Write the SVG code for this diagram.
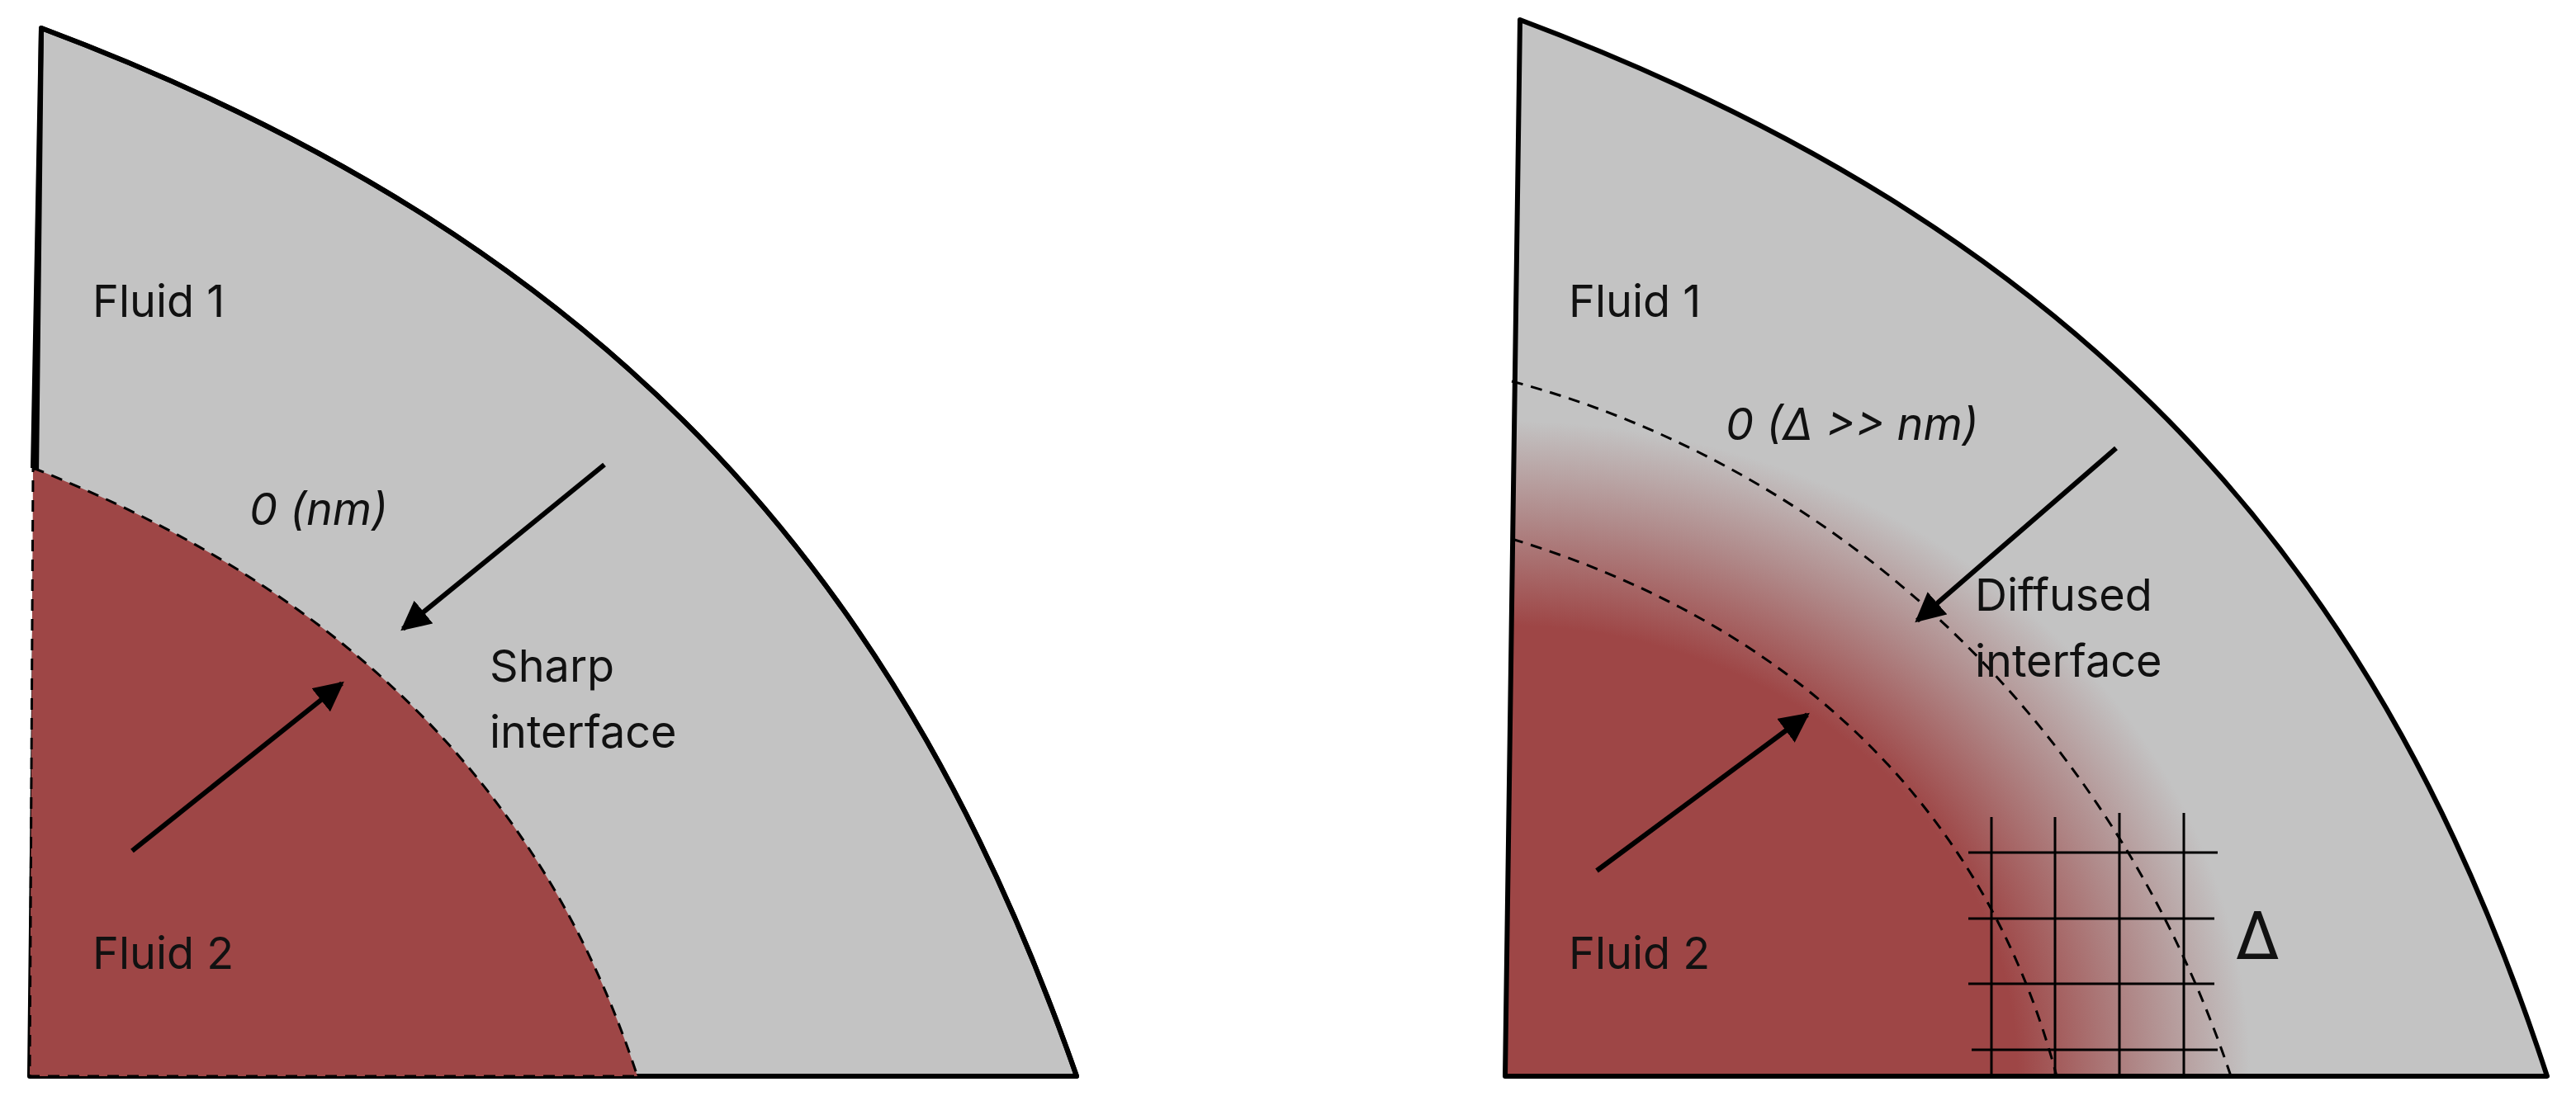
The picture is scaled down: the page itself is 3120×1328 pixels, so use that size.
<svg xmlns="http://www.w3.org/2000/svg" width="3120" height="1328" viewBox="0 0 3120 1328">
<style>
.o{stroke:#000;stroke-width:6;stroke-linejoin:round}
.d{fill:none;stroke:#000;stroke-width:3;stroke-dasharray:14 10}
.t{font-family:Inter,"Liberation Sans",sans-serif;font-size:54px;fill:#111}
.i{font-style:italic}
.a{stroke:#000;stroke-width:6;fill:none;marker-end:url(#ah)}
.g{stroke:#000;stroke-width:3}
</style>
<defs>
<marker id="ah" viewBox="0 0 10 10" refX="9" refY="5" markerWidth="6" markerHeight="6" markerUnits="strokeWidth" orient="auto"><path d="M0,0 L10,5 L0,10 z" fill="#000"/></marker>
<radialGradient id="rg" gradientUnits="userSpaceOnUse" cx="1823" cy="1304" r="940" gradientTransform="translate(1823 1304) scale(1 0.88) translate(-1823 -1304)">
<stop offset="0" stop-color="#9e4646"/><stop offset="0.66" stop-color="#9e4646"/><stop offset="0.82" stop-color="#b08a8a"/><stop offset="0.96" stop-color="#c3c3c3"/><stop offset="1" stop-color="#c3c3c3"/>
</radialGradient>
</defs>
<rect width="3120" height="1328" fill="#fff"/>
<g id="left-panel">
<path class="o" d="M50,34 C760,300 1100,720 1304,1304 L772,1304 L36,1304 Z" fill="#c3c3c3"/>
<path d="M40,567 C350,690 640,900 772,1304 L36,1304 Z" fill="#9e4646"/>
<path class="o" fill="none" d="M772,1304 L1304,1304 C1100,720 760,300 50,34 L40,567"/>
<path class="d" d="M40,567 C350,690 640,900 772,1304 L36,1304 L40,567"/>
<text class="t" x="112" y="384">Fluid 1</text>
<text class="t" x="112" y="1174">Fluid 2</text>
<text class="t i" x="302" y="636">0 (nm)</text>
<text class="t" x="593" y="826">Sharp</text>
<text class="t" x="593" y="906">interface</text>
</g>
<g id="right-panel">
<path class="o" d="M1841,24 C2551,290 2891,710 3085,1304 L1823,1304 Z" fill="url(#rg)"/>
<path class="d" d="M1831,462 C2200,560 2550,850 2702,1304"/>
<path class="d" d="M1831,653 C2150,750 2400,960 2491,1304"/>
<g id="grid">
<line class="g" x1="2412" y1="990" x2="2412" y2="1304"/>
<line class="g" x1="2489" y1="990" x2="2489" y2="1304"/>
<line class="g" x1="2567" y1="985" x2="2567" y2="1304"/>
<line class="g" x1="2645" y1="985" x2="2645" y2="1304"/>
<line class="g" x1="2384" y1="1033" x2="2686" y2="1033"/>
<line class="g" x1="2384" y1="1113" x2="2682" y2="1113"/>
<line class="g" x1="2384" y1="1192" x2="2682" y2="1192"/>
<line class="g" x1="2388" y1="1272" x2="2686" y2="1272"/>
</g>
<text class="t" x="1900" y="384">Fluid 1</text>
<text class="t" x="1900" y="1174">Fluid 2</text>
<text class="t i" x="2090" y="533">0 (Δ &gt;&gt; nm)</text>
<text class="t" x="2392" y="740">Diffused</text>
<text class="t" x="2392" y="820">interface</text>
<text class="t" x="2707" y="1162" style="font-size:80px">Δ</text>
</g>
<g id="connectors">
<line class="a" x1="732" y1="563" x2="488" y2="762"/>
<line class="a" x1="160" y1="1031" x2="414" y2="828"/>
<line class="a" x1="2563" y1="543" x2="2322" y2="752"/>
<line class="a" x1="1934" y1="1055" x2="2189" y2="866"/>
</g>
</svg>
